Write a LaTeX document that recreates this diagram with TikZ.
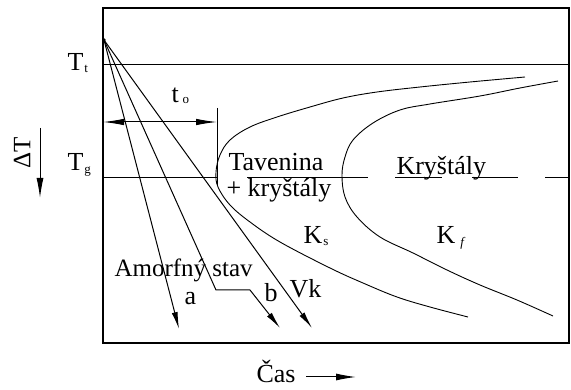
\documentclass[tikz,border=0pt]{standalone}
\usepackage{fontspec}
\setmainfont{Liberation Serif}
\usetikzlibrary{arrows.meta}
\newcommand{\smallsub}[2][-3pt]{\raisebox{#1}{\fontsize{13}{13}\selectfont #2}}
\begin{document}
\begin{tikzpicture}[x=1pt,y=-1pt, line width=1pt,
  lbl/.style={inner sep=0pt, anchor=base west, font=\fontsize{26}{28}\selectfont},
  tipline/.style={-{Latex[length=17pt,width=6pt]}},
  bigtip/.style={-{Latex[length=20pt,width=7pt]}},
  dimline/.style={{Latex[length=21pt,width=6.5pt]}-{Latex[length=21pt,width=6.5pt]}},
  curve/.style={line width=0.9pt},
  ]
\useasboundingbox (0,0) rectangle (571,390);
% frame
\draw[line width=1.4pt] (103,8) rectangle (569,343);
% coordinates
\coordinate (S) at (104,40);
\coordinate (TtL) at (103,65);  \coordinate (TtR) at (569,65);
\coordinate (aE) at (179,329);
\coordinate (bK1) at (216,290); \coordinate (bK2) at (250,290); \coordinate (bE) at (280,328);
\coordinate (vE) at (312,328);
\coordinate (toL) at (103,122); \coordinate (toR) at (217,122);
\coordinate (toT) at (217,108); \coordinate (toB) at (217,185);
% temperature lines
\draw (TtL) -- (TtR);
\draw (103,178) -- (217,178);
\draw (247,178) -- (368,178);
\draw (395,178) -- (442,178);
\draw (472,178) -- (518,178);
\draw (545,178) -- (569,178);
% t_o dimension
\draw[dimline] (toL) -- (toR);
\draw (toT) -- (toB);
% cooling lines
\draw[tipline] (S) -- (aE);
\draw[tipline] (S) -- (bK1) -- (bK2) -- (bE);
\draw[tipline] (S) -- (vE);
\fill (S) circle (1.8pt);
% C-curves
\draw[curve] plot[smooth, tension=0.6] coordinates {(525,77) (470,82) (420,87) (377,92) (343,98) (310,107) (277,117) (250,127) (230,140) (220,155) (216,172) (218,187) (230,205) (250,222) (280,242) (330,268) (363,283) (397,297) (430,307) (468,317)};
\draw[curve] plot[smooth, tension=0.6] coordinates {(558,81) (520,88) (480,96) (430,104) (400,110) (373,123) (353,140) (345,157) (342,175) (345,197) (357,217) (380,237) (413,253) (447,270) (480,285) (517,300) (553,316)};
% labels
\node[lbl] (Tt) at (67,71) {T\kern1pt\smallsub[-2pt]{t}};
\node[lbl] (Tg) at (67,171) {T\kern1pt\smallsub[-3pt]{g}};
\node[inner sep=0pt, rotate=90, font=\fontsize{25}{27}\selectfont] (dT) at (22,153) {ΔT};
\coordinate (dTa) at (40,128); \coordinate (dTb) at (40,198);
\draw[bigtip] (dTa) -- (dTb);
\node[lbl] (to) at (171,103) {t\kern4pt\smallsub[-1pt]{o}};
\node[lbl] (tav) at (228,171) {Tavenina};
\node[lbl] (krys1) at (226,197) {+ kryštály};
\node[lbl] (krys2) at (396,175) {Kryštály};
\node[lbl, font=\fontsize{25}{27}\selectfont] (am) at (114,277) {Amorfný stav};
\node[lbl] (la) at (184,305) {a};
\node[lbl] (lb) at (264,302) {b};
\node[lbl] (vk) at (289,298) {Vk};
\node[lbl] (Ks) at (303,244) {K\kern1pt\smallsub[-2pt]{s}};
\node[lbl] (Kf) at (436,244) {K\kern5pt\smallsub[-3pt]{\itshape f}};
\node[lbl] (cas) at (256,383) {Čas};
\coordinate (casA) at (306,377); \coordinate (casB) at (356,377);
\draw[bigtip] (casA) -- (casB);
\end{tikzpicture}
\end{document}
